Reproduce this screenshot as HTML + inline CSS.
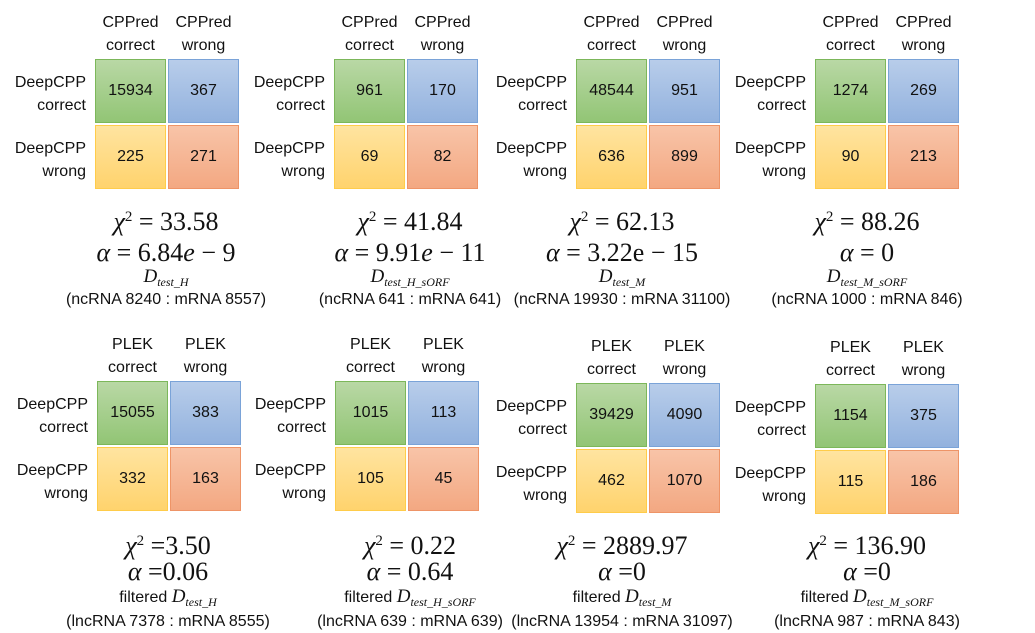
<!DOCTYPE html>
<html><head><meta charset="utf-8">
<style>
body{margin:0;width:1035px;height:632px;background:#fff;position:relative;overflow:hidden;font-family:"Liberation Sans",sans-serif;color:#111}
.t{position:absolute;white-space:nowrap;font-size:16px;line-height:23px}
.c{text-align:center;transform:translateX(-50%)}
.r{text-align:right;transform:translateX(-100%)}
.cell{position:absolute;box-sizing:border-box;border:1.5px solid;display:flex;align-items:center;justify-content:center;font-size:16px}
.g{background:linear-gradient(#b9d8a5,#92c575);border-color:#7cb75a}
.b{background:linear-gradient(#b8cdea,#93b2de);border-color:#7aa3d8}
.y{background:linear-gradient(#ffe4a0,#ffd36d);border-color:#ffcc4a}
.o{background:linear-gradient(#f8c4a8,#f3a882);border-color:#ee9467}
.m{font-family:"Liberation Serif",serif;font-size:26px;line-height:28px}
sub{font-size:12px;vertical-align:-4px}
sup{font-size:15px;vertical-align:9px}
</style></head><body>
<script>
const tools=["CPPred","CPPred","CPPred","CPPred","PLEK","PLEK","PLEK","PLEK"];
const cc=[15934,961,48544,1274,15055,1015,39429,1154];
const cw=[367,170,951,269,383,113,4090,375];
const wc=[225,69,636,90,332,105,462,115];
const ww=[271,82,899,213,163,45,1070,186];
const chi=["= 33.58","= 41.84","= 62.13","= 88.26","=3.50","= 0.22","= 2889.97","= 136.90"];
const alp=["= 6.84<i>e</i> − 9","= 9.91<i>e</i> − 11","= 3.22e − 15","= 0","=0.06","= 0.64","=0","=0"];
const dsub=["test_H","test_H_sORF","test_M","test_M_sORF","test_H","test_H_sORF","test_M","test_M_sORF"];
const counts=["(ncRNA 8240 : mRNA 8557)","(ncRNA 641 : mRNA 641)","(ncRNA 19930 : mRNA 31100)","(ncRNA 1000 : mRNA 846)","(lncRNA 7378 : mRNA 8555)","(lncRNA 639 : mRNA 639)","(lncRNA 13954 : mRNA 31097)","(lncRNA 987 : mRNA 843)"];
// layout
const gx=[95,334,576,815,97,335,576,815];
const gy=[59,59,59,59,381,381,383,384];
const tx=[166,410,622,867,168,410,622,867];
const ty=[222,222,222,222,545,545,545,545];
function add(cls,x,y,html,name,w,h){
  const d=document.createElement('div');
  d.className=cls;d.style.left=x+'px';d.style.top=y+'px';
  if(w){d.style.width=w+'px';d.style.height=h+'px';}
  d.innerHTML=html;
  
  
  document.body.appendChild(d);return d;
}
for(let k=0;k<8;k++){
  const x=gx[k],y=gy[k],cw2=71,ch=64,gap=2;
  const bot=k>=4;
  add('t c',x+cw2/2,y-48,tools[k]+'<br>correct','col-header-correct');
  add('t c',x+cw2*1.5+gap,y-48,tools[k]+'<br>wrong','col-header-wrong');
  add('t r',x-9,y+12,'DeepCPP<br>correct','row-header-correct');
  add('t r',x-9,y+ch+gap+12,'DeepCPP<br>wrong','row-header-wrong');
  add('cell g',x,y,cc[k],'cell-both-correct',cw2,ch);
  add('cell b',x+cw2+gap,y,cw[k],'cell-deepcpp-correct-other-wrong',cw2,ch);
  add('cell y',x,y+ch+gap,wc[k],'cell-deepcpp-wrong-other-correct',cw2,ch);
  add('cell o',x+cw2+gap,y+ch+gap,ww[k],'cell-both-wrong',cw2,ch);
  add('t c m',tx[k],ty[k]-(bot?18:19),'<i>χ</i><sup>2</sup> '+chi[k],'chi-square-value');
  add('t c m',tx[k],ty[k]+(bot?13:17),'<i>α</i> '+alp[k],'p-value');
  add('t c',tx[k],ty[k]+(bot?40:43),(bot?'filtered ':'')+'<span style="font-family:Liberation Serif,serif;font-style:italic;font-size:19px">D<sub>'+dsub[k]+'</sub></span>','dataset-name');
  add('t c',tx[k],ty[k]+(bot?65:66),counts[k],'dataset-counts');
}
</script>
</body></html>
